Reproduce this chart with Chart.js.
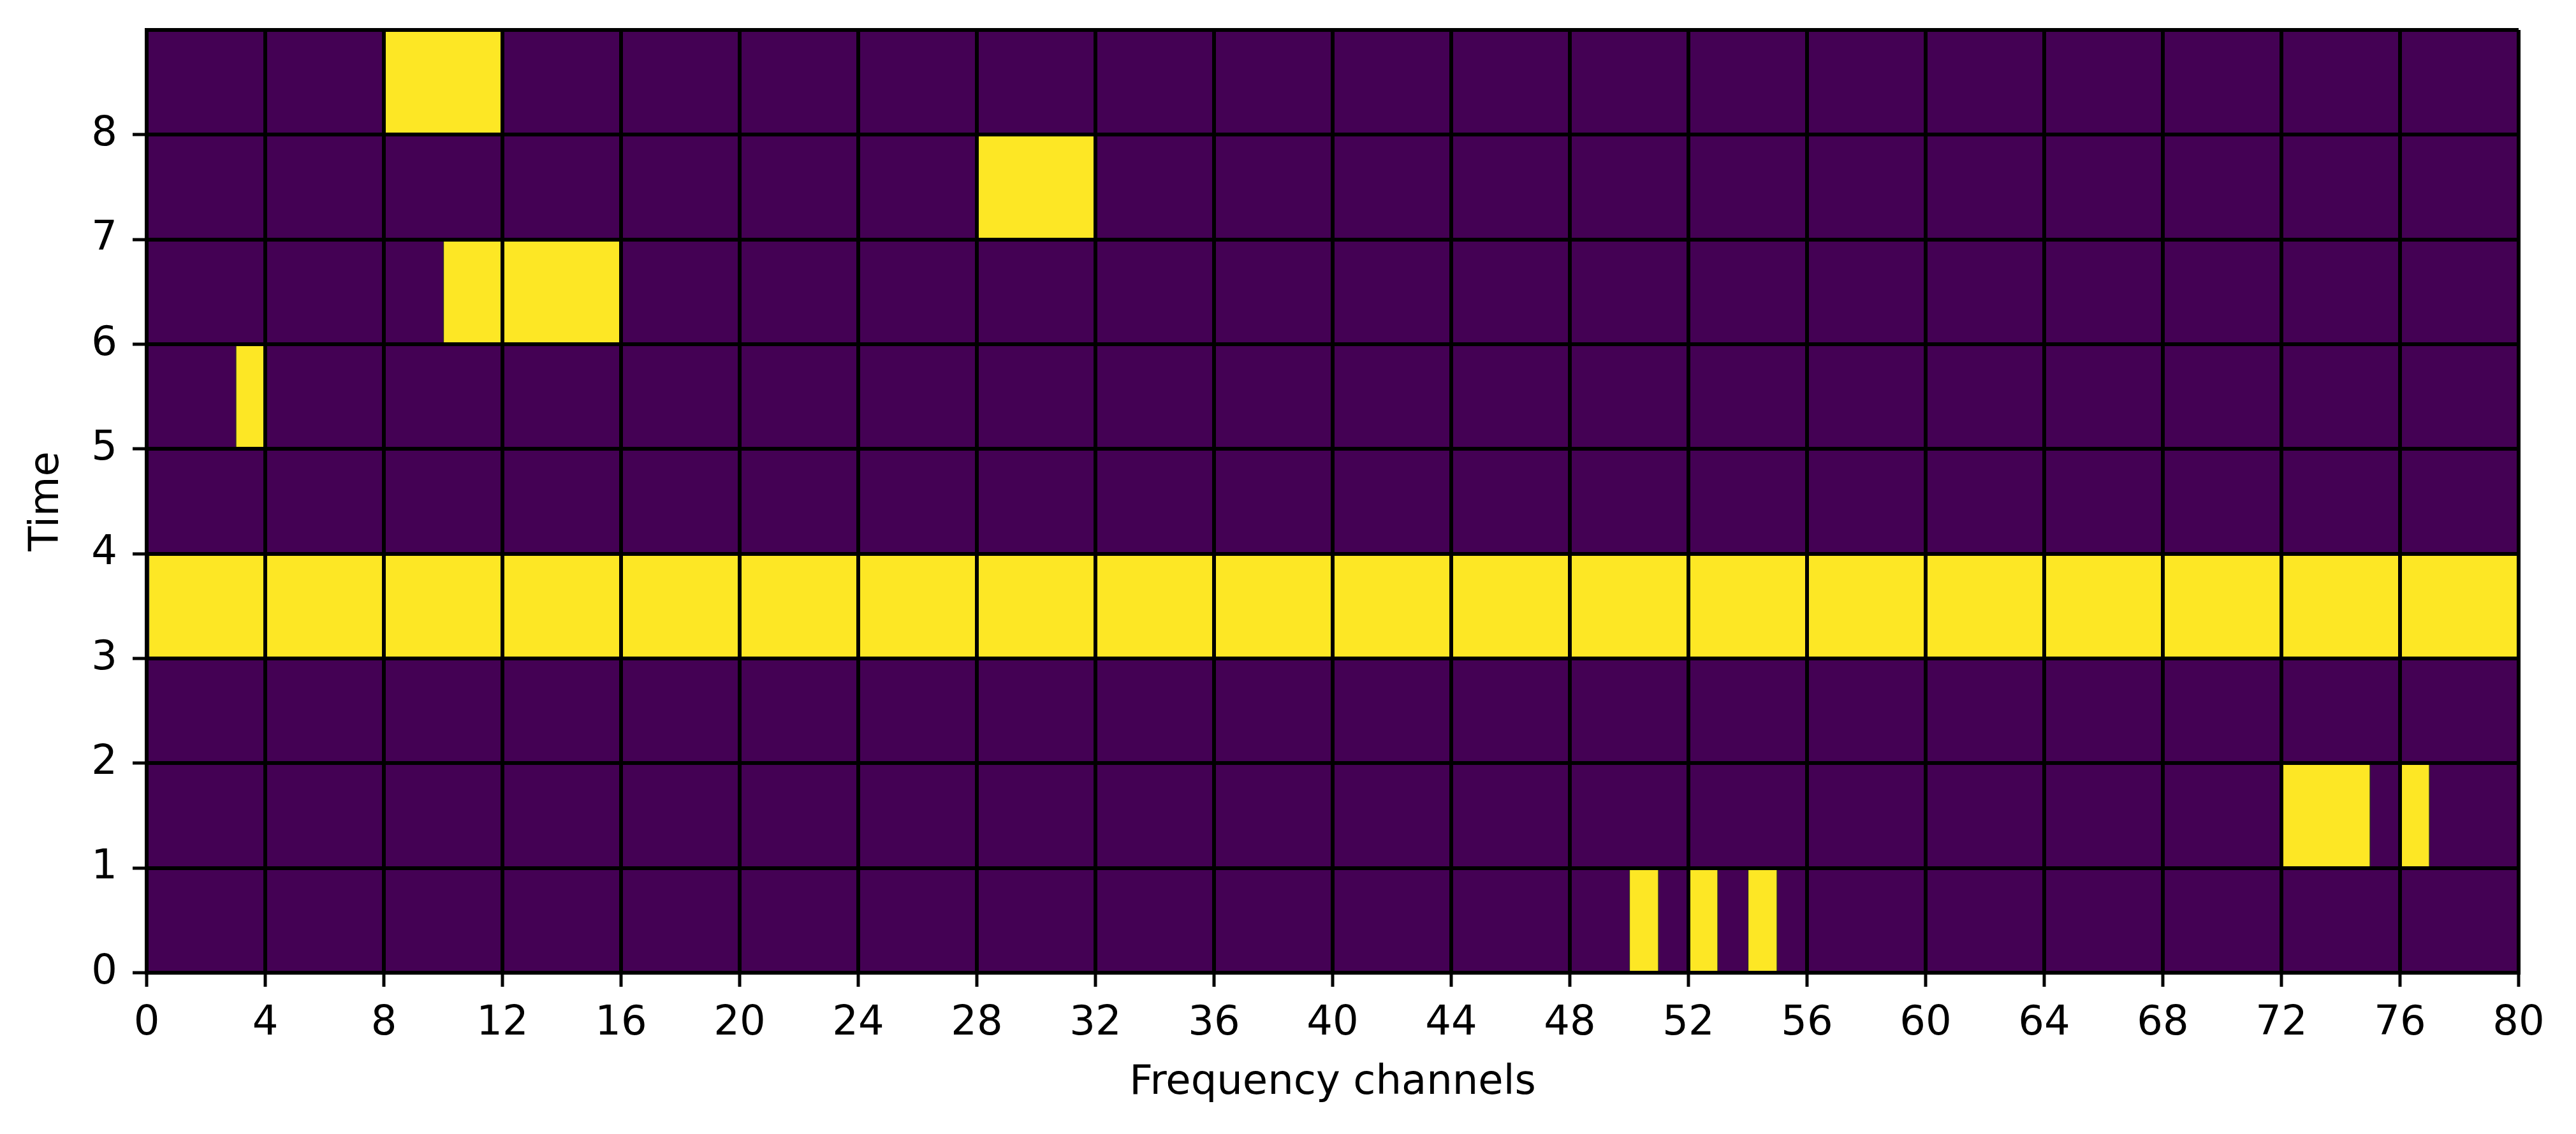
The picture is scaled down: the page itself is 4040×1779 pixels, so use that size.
<!DOCTYPE html>
<html>
<head>
<meta charset="utf-8">
<script src="https://cdn.jsdelivr.net/npm/chart.js@4/dist/chart.umd.min.js"></script>
<style>
  html, body { margin: 0; padding: 0; background: #fff; }
  #wrap { width: 4040px; height: 1779px; }
</style>
</head>
<body>
<div id="wrap"><canvas id="chart" width="4040" height="1779"></canvas></div>
<script>
// Time rows (centre of each 1-unit row) and frequency channel spans
const timeRows = [0.5, 1.5, 2.5, 3.5, 4.5, 5.5, 6.5, 7.5, 8.5];
const channelMin = 0;
const channelMax = 80;

// active (yellow) cells: row centre, start channel, end channel
const activeRow   = [8.5, 7.5, 6.5, 6.5, 5.5, 3.5, 1.5, 1.5, 0.5, 0.5, 0.5];
const activeStart = [8,   28,  10,  12,  3,   0,   72,  76,  50,  52,  54];
const activeEnd   = [12,  32,  12,  16,  4,   80,  75,  77,  51,  53,  55];

const xTickStep = 4;
const yTicks = [0, 1, 2, 3, 4, 5, 6, 7, 8];

const PURPLE = '#440154';
const YELLOW = '#fde725';
const FONT = { family: "'DejaVu Sans', sans-serif", size: 64 };

const background = timeRows.map(r => ({ y: r, x: [channelMin, channelMax] }));
const active = activeRow.map((r, i) => ({ y: r, x: [activeStart[i], activeEnd[i]] }));

const ctx = document.getElementById('chart');
new Chart(ctx, {
  type: 'bar',
  data: {
    datasets: [
      {
        label: 'active',
        data: active,
        backgroundColor: YELLOW,
        borderColor: '#2a2a2a',
        borderWidth: 1.5,
        borderSkipped: false,
        grouped: false,
        order: 1,
        barPercentage: 1,
        categoryPercentage: 1
      },
      {
        label: 'idle',
        data: background,
        backgroundColor: PURPLE,
        borderWidth: 0,
        grouped: false,
        order: 2,
        barPercentage: 1,
        categoryPercentage: 1
      }
    ]
  },
  options: {
    indexAxis: 'y',
    responsive: false,
    devicePixelRatio: 1,
    animation: false,
    events: [],
    layout: { padding: { top: 47, right: 90, left: 0, bottom: 0 } },
    plugins: {
      legend: { display: false },
      tooltip: { enabled: false }
    },
    scales: {
      x: {
        type: 'linear',
        min: channelMin,
        max: channelMax,
        afterFit: (scale) => {
          scale.height = 1779 - 1526;
          scale.paddingLeft = 0;
          scale.paddingRight = 0;
        },
        ticks: {
          stepSize: xTickStep,
          color: '#000',
          font: FONT,
          padding: 20,
          maxRotation: 0,
          autoSkip: false
        },
        grid: { color: '#000', lineWidth: 6, tickLength: 22, tickWidth: 5, z: 1 },
        border: { color: '#000', width: 6, z: 1 },
        title: {
          display: true,
          text: 'Frequency channels',
          color: '#000',
          font: FONT,
          padding: { top: 0, bottom: 41 }
        }
      },
      y: {
        type: 'linear',
        min: 0,
        max: 9,
        offset: false,
        afterFit: (scale) => {
          scale.width = 230;
          scale.paddingTop = 0;
          scale.paddingBottom = 0;
        },
        afterBuildTicks: (scale) => {
          scale.ticks = yTicks.concat([9]).map(v => ({ value: v }));
        },
        ticks: {
          color: '#000',
          font: FONT,
          padding: 24,
          autoSkip: false,
          callback: (v) => (yTicks.includes(v) ? String(v) : '')
        },
        grid: {
          offset: false,
          color: '#000',
          lineWidth: 6,
          tickLength: 22,
          tickWidth: 5,
          tickColor: (c) => (c.tick && c.tick.value === 9 ? 'rgba(0,0,0,0)' : '#000'),
          z: 1
        },
        border: { color: '#000', width: 6, z: 1 },
        title: {
          display: true,
          text: 'Time',
          color: '#000',
          font: FONT,
          padding: { top: 36, bottom: 0 }
        }
      }
    }
  }
});
</script>
</body>
</html>
